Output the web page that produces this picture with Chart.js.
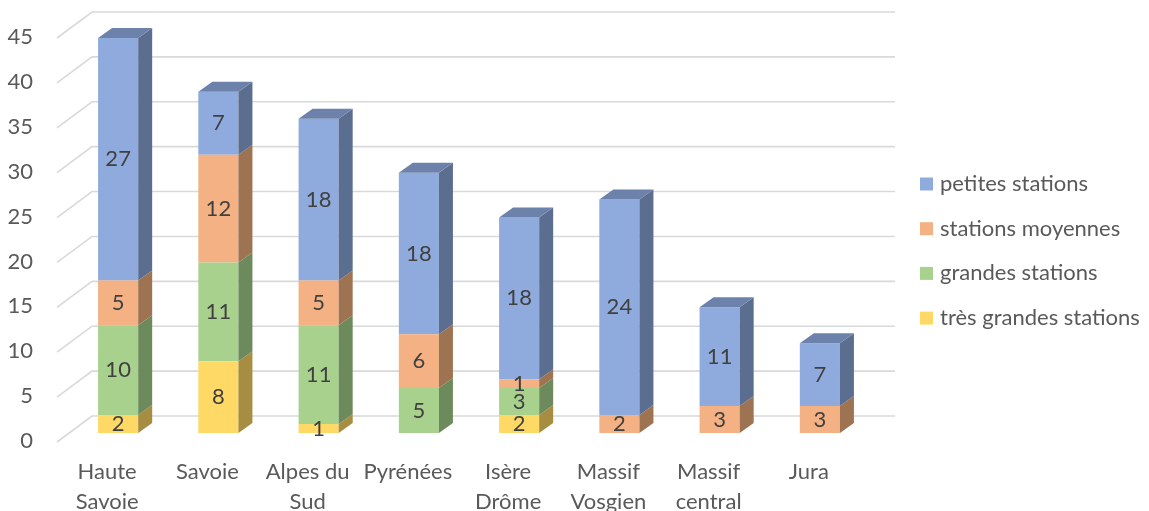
<!DOCTYPE html>
<html lang="fr">
<head>
<meta charset="UTF-8" />
<title>Stations par massif</title>
<script src="https://cdn.jsdelivr.net/npm/chart.js"></script>
<style>
  body { margin: 0; background: #fff; }
  canvas { display: block; }
</style>
</head>
<body>
<canvas id="myChart" width="1149" height="511"></canvas>
<script>
  // donnees
  const massifs = [["Haute", "Savoie"], "Savoie", ["Alpes du", "Sud"], "Pyrénées", ["Isère", "Drôme"], ["Massif", "Vosgien"], ["Massif", "central"], "Jura"];
  const tresGrandes = [2, 8, 1, 0, 2, 0, 0, 0];
  const grandes = [10, 11, 11, 5, 3, 0, 0, 0];
  const moyennes = [5, 12, 5, 6, 1, 2, 3, 3];
  const petites = [27, 7, 18, 18, 18, 24, 11, 7];
  const yMax = 45;
  const yStep = 5;

  const FONT = "Lato";
  const DX = 14, DY = 10;

  const mk = (label, data, front, top, side) => ({
    label, data, backgroundColor: front, topColor: top, sideColor: side, borderWidth: 0,
  });

  // faces 3D, grille en perspective, etiquettes et legende
  const bars3d = {
    id: "bars3d",
    beforeDatasetsDraw(chart) {
      const { ctx, chartArea } = chart;
      const y = chart.scales.y;
      ctx.save();
      ctx.strokeStyle = "#d9d9d9";
      ctx.lineWidth = 1.6;
      for (let v = 0; v <= yMax; v += yStep) {
        const py = y.getPixelForValue(v);
        ctx.beginPath();
        ctx.moveTo(chartArea.left - 11, py + 9);
        ctx.lineTo(chartArea.left + 24, py - 17);
        ctx.lineTo(chartArea.right + 25, py - 17);
        ctx.stroke();
      }
      ctx.restore();
    },
    afterDatasetsDraw(chart) {
      const ctx = chart.ctx;
      const sets = chart.data.datasets;
      ctx.save();
      sets.forEach((ds, di) => {
        chart.getDatasetMeta(di).data.forEach((bar, i) => {
          if (!ds.data[i]) return;
          const { x, y, base, width } = bar.getProps(["x", "y", "base", "width"], true);
          const l = x - width / 2, r = x + width / 2;
          ctx.fillStyle = ds.sideColor;
          ctx.beginPath();
          ctx.moveTo(r, y);
          ctx.lineTo(r + DX, y - DY);
          ctx.lineTo(r + DX, base - DY);
          ctx.lineTo(r, base);
          ctx.closePath();
          ctx.fill();
          const above = sets.slice(di + 1).some((d) => d.data[i] > 0);
          if (!above) {
            ctx.fillStyle = ds.topColor;
            ctx.beginPath();
            ctx.moveTo(l, y);
            ctx.lineTo(l + DX, y - DY);
            ctx.lineTo(r + DX, y - DY);
            ctx.lineTo(r, y);
            ctx.closePath();
            ctx.fill();
          }
        });
      });
      // valeurs
      ctx.font = "22px " + FONT;
      ctx.fillStyle = "#404040";
      ctx.textAlign = "center";
      ctx.textBaseline = "middle";
      sets.forEach((ds, di) => {
        chart.getDatasetMeta(di).data.forEach((bar, i) => {
          if (!ds.data[i]) return;
          const { x, y, base } = bar.getProps(["x", "y", "base"], true);
          ctx.fillText(String(ds.data[i]), x, (y + base) / 2);
        });
      });
      // legende
      const lx = 920, ly = 184, lh = 44.7;
      ctx.textAlign = "left";
      sets.slice().reverse().forEach((ds, k) => {
        const cy = ly + k * lh;
        ctx.fillStyle = ds.backgroundColor;
        ctx.fillRect(lx, cy - 6.5, 13, 13);
        ctx.fillStyle = "#595959";
        ctx.fillText(ds.label, lx + 20, cy);
      });
      ctx.restore();
    },
  };

  new Chart(document.getElementById("myChart"), {
    type: "bar",
    data: {
      labels: massifs,
      datasets: [
        mk("très grandes stations", tresGrandes, "#ffd966", "#c9a94e", "#a68d42"),
        mk("grandes stations", grandes, "#a9d18e", "#82a06c", "#6d8a5c"),
        mk("stations moyennes", moyennes, "#f4b183", "#bd875f", "#9e7352"),
        mk("petites stations", petites, "#8faadc", "#6c82aa", "#5c6e90"),
      ],
    },
    options: {
      responsive: false,
      animation: false,
      layout: { padding: { top: 29, right: 279, left: 0, bottom: 0 } },
      categoryPercentage: 1,
      barPercentage: 0.4,
      plugins: { legend: { display: false }, tooltip: { enabled: false } },
      scales: {
        x: {
          stacked: true,
          grid: { display: false, drawTicks: false },
          border: { display: false },
          ticks: {
            color: "#595959",
            font: { family: FONT, size: 22, lineHeight: 1.36 },
            padding: 24,
            labelOffset: -11,
            autoSkip: false,
            maxRotation: 0,
            minRotation: 0,
          },
          afterFit: (s) => { s.height = 78; s.paddingLeft = 0; s.paddingRight = 0; },
        },
        y: {
          stacked: true,
          min: 0,
          max: yMax,
          grid: { display: false, drawTicks: false },
          border: { display: false },
          ticks: {
            stepSize: yStep,
            color: "#595959",
            font: { family: FONT, size: 22 },
            padding: 35,
            labelOffset: 8,
          },
          afterFit: (s) => { s.width = 68; s.paddingTop = 0; s.paddingBottom = 0; },
        },
      },
    },
    plugins: [bars3d],
  });
</script>
</body>
</html>
